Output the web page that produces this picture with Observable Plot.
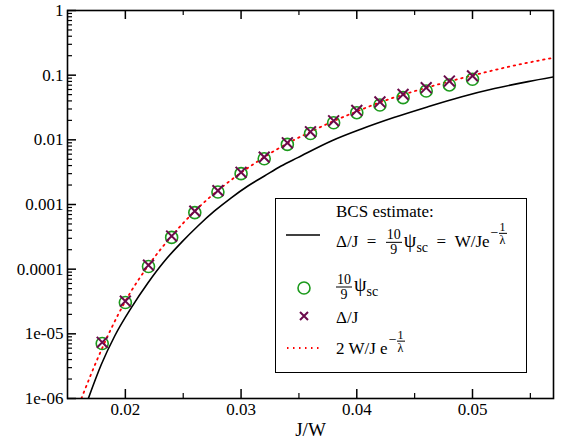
<!DOCTYPE html>
<html><head><meta charset="utf-8">
<script src="https://cdn.jsdelivr.net/npm/d3@7"></script>
<script src="https://cdn.jsdelivr.net/npm/@observablehq/plot@0.6"></script>
<style>
html,body{margin:0;padding:0;background:#fff;}
#wrap{position:relative;width:562px;height:439px;font-family:"Liberation Serif","Times New Roman",serif;color:#000;overflow:hidden;}
#wrap svg, #wrap svg text{font-family:"Liberation Serif","Times New Roman",serif !important;}
#wrap > svg text{font-size:17px !important;}
#wrap > svg g[aria-label="x-axis label"] text{font-size:19px !important;}
#legend{position:absolute;left:275px;top:198px;width:252px;height:175px;border:1.5px solid #000;background:#fff;box-sizing:border-box;font-size:17px;}
.row{position:absolute;white-space:nowrap;line-height:1;transform:translateY(-50%);}
.frac{display:inline-flex;flex-direction:column;align-items:center;vertical-align:middle;font-size:14px;line-height:1.0;margin:0 2px 0 1px;}
.frac .n{border-bottom:1px solid #000;padding:0 1px;}
.sfrac{display:inline-flex;flex-direction:column;align-items:center;vertical-align:middle;font-size:12px;line-height:1.0;}
.sfrac .n{border-bottom:1px solid #000;padding:0 1px;}
.sup{display:inline-block;vertical-align:10px;font-size:14px;margin-left:1px;}
.psi{font-size:20px;}
.sub{font-size:14px;vertical-align:-5px;}
.sym{position:absolute;}
</style>
</head><body>
<div id="wrap"></div>
<script>
// ---- data ----
const pointX = [0.018,0.020,0.022,0.024,0.026,0.028,0.030,0.032,0.034,0.036,0.038,0.040,0.042,0.044,0.046,0.048,0.050];
const psiSc  = [7.1e-6,3.05e-5,1.1e-4,3.1e-4,7.5e-4,1.56e-3,3.0e-3,5.1e-3,8.5e-3,0.0125,0.0184,0.0263,0.0346,0.0449,0.057,0.0706,0.0864];
const deltaJ = [7.4e-6,3.2e-5,1.15e-4,3.25e-4,7.9e-4,1.64e-3,3.15e-3,5.4e-3,9.0e-3,0.0133,0.0197,0.0285,0.0385,0.0505,0.064,0.0810,0.0975];
const bcsX = [0.0168,0.01793,0.01908,0.02052,0.02196,0.02339,0.02483,0.02627,0.02771,0.02915,0.03059,0.03202,0.03346,0.0349,0.0378,0.0404,0.0432,0.0461,0.0490,0.0519,0.0548,0.0570];
const bcsY = [1.0e-6,3.38e-6,9.26e-6,2.54e-5,6.18e-5,1.34e-4,2.57e-4,4.65e-4,7.94e-4,1.27e-3,1.93e-3,2.76e-3,3.94e-3,5.31e-3,9.6e-3,0.0147,0.0221,0.0323,0.046,0.062,0.0795,0.0938];
const redX = [0.0162,0.01764,0.020,0.022,0.024,0.026,0.028,0.030,0.032,0.034,0.036,0.038,0.040,0.042,0.044,0.046,0.048,0.050,0.0533,0.057];
const redY = [1.0e-6,4.3e-6,3.2e-5,1.15e-4,3.25e-4,7.9e-4,1.65e-3,3.1e-3,5.4e-3,8.8e-3,0.0133,0.0195,0.0275,0.038,0.05,0.064,0.08,0.099,0.137,0.186];
const yTickValues = [1,0.1,0.01,0.001,1e-4,1e-5,1e-6];
const yTickLabels = ["1","0.1","0.01","0.001","0.0001","1e-05","1e-06"];
const xTickValues = [0.02,0.03,0.04,0.05];
const xTickLabels = ["0.02","0.03","0.04","0.05"];
const xMinorValues = [0.025,0.035,0.045,0.055];

const W=562,H=439,mL=67,mR=9,mT=10,mB=41;
const pw=W-mL-mR, ph=H-mT-mB;
const yMinorValues = d3.range(-6,0).flatMap(e => d3.range(2,10).map(k => k*Math.pow(10,e)));

const points = pointX.map((x,i)=>({x, psi: psiSc[i], delta: deltaJ[i]}));
const bcs = bcsX.map((x,i)=>({x, y: bcsY[i]}));
const red = redX.map((x,i)=>({x, y: redY[i]}));

const chart = Plot.plot({
  width: W, height: H, marginLeft: mL, marginRight: mR, marginTop: mT, marginBottom: mB,
  style: {fontFamily: "'Liberation Serif', 'Times New Roman', serif", fontSize: "17px", color: "#000", background: "#fff", overflow: "visible"},
  x: {domain: [0.015, 0.057]},
  y: {type: "log", domain: [1e-6, 1]},
  marks: [
    Plot.line(bcs, {x: "x", y: "y", stroke: "#000", strokeWidth: 1.6, curve: "monotone-x", clip: true}),
    Plot.line(red, {x: "x", y: "y", stroke: "#ff0000", strokeWidth: 1.8, strokeDasharray: "1.5,4.5", curve: "monotone-x", clip: true}),
    Plot.dot(points, {x: "x", y: "psi", r: 6, stroke: "#1c9a1c", strokeWidth: 1.6, fill: "none"}),
    Plot.dot(points, {x: "x", y: "delta", symbol: "times", r: 5, stroke: "#6b0a4b", strokeWidth: 2}),
    Plot.tickY(yTickValues, {y: d => d, insetRight: pw - 9, stroke: "#000", strokeWidth: 1.5}),
    Plot.tickY(yMinorValues, {y: d => d, insetRight: pw - 5, stroke: "#000", strokeWidth: 1.2}),
    Plot.tickX(xTickValues, {x: d => d, insetTop: ph - 9, stroke: "#000", strokeWidth: 1.5}),
    Plot.tickX(xTickValues, {x: d => d, insetBottom: ph - 9, stroke: "#000", strokeWidth: 1.5}),
    Plot.tickX(xMinorValues, {x: d => d, insetTop: ph - 5, stroke: "#000", strokeWidth: 1.2}),
    Plot.tickX(xMinorValues, {x: d => d, insetBottom: ph - 5, stroke: "#000", strokeWidth: 1.2}),
    Plot.frame({stroke: "#000", strokeWidth: 1.6}),
    Plot.axisY(yTickValues, {anchor: "left", tickSize: 0, tickPadding: 4, tickFormat: d => yTickLabels[yTickValues.indexOf(d)], label: null}),
    Plot.axisX(xTickValues, {anchor: "bottom", tickSize: 0, tickPadding: 4, tickFormat: d => xTickLabels[xTickValues.indexOf(d)], label: "J/W", labelAnchor: "center", labelArrow: "none", labelOffset: 37})
  ]
});
const wrap = document.getElementById("wrap");
wrap.appendChild(chart);

const legend = document.createElement("div");
legend.id = "legend";
legend.innerHTML = `
 <div class="row" style="left:60px;top:12px">BCS estimate:</div>
 <svg class="sym" style="left:10px;top:34px" width="36" height="4"><line x1="0" x2="34" y1="2" y2="2" stroke="#000" stroke-width="1.6"/></svg>
 <div class="row" style="left:60px;top:40px">Δ/J&nbsp;&nbsp;=&nbsp;&nbsp;<span class="frac"><span class="n">10</span><span>9</span></span><span class="psi">ψ</span><span class="sub">sc</span>&nbsp;&nbsp;=&nbsp;&nbsp;W/Je<span class="sup">−<span class="sfrac"><span class="n">1</span><span>λ</span></span></span></div>
 <svg class="sym" style="left:19px;top:80px" width="18" height="18"><circle cx="9" cy="9" r="6" fill="none" stroke="#1c9a1c" stroke-width="1.6"/></svg>
 <div class="row" style="left:60px;top:88px"><span class="frac" style="margin-left:0"><span class="n">10</span><span>9</span></span><span class="psi">ψ</span><span class="sub">sc</span></div>
 <svg class="sym" style="left:19px;top:108px" width="18" height="18"><path d="M5,5L13,13M13,5L5,13" stroke="#6b0a4b" stroke-width="2"/></svg>
 <div class="row" style="left:60px;top:118px">Δ/J</div>
 <svg class="sym" style="left:10px;top:147px" width="36" height="4"><line x1="1" x2="34" y1="2" y2="2" stroke="#ff0000" stroke-width="1.8" stroke-dasharray="1.5,4.5"/></svg>
 <div class="row" style="left:60px;top:144px">2 W/J e<span class="sup">−<span class="sfrac"><span class="n">1</span><span>λ</span></span></span></div>
`;
wrap.appendChild(legend);
</script>
</body></html>
